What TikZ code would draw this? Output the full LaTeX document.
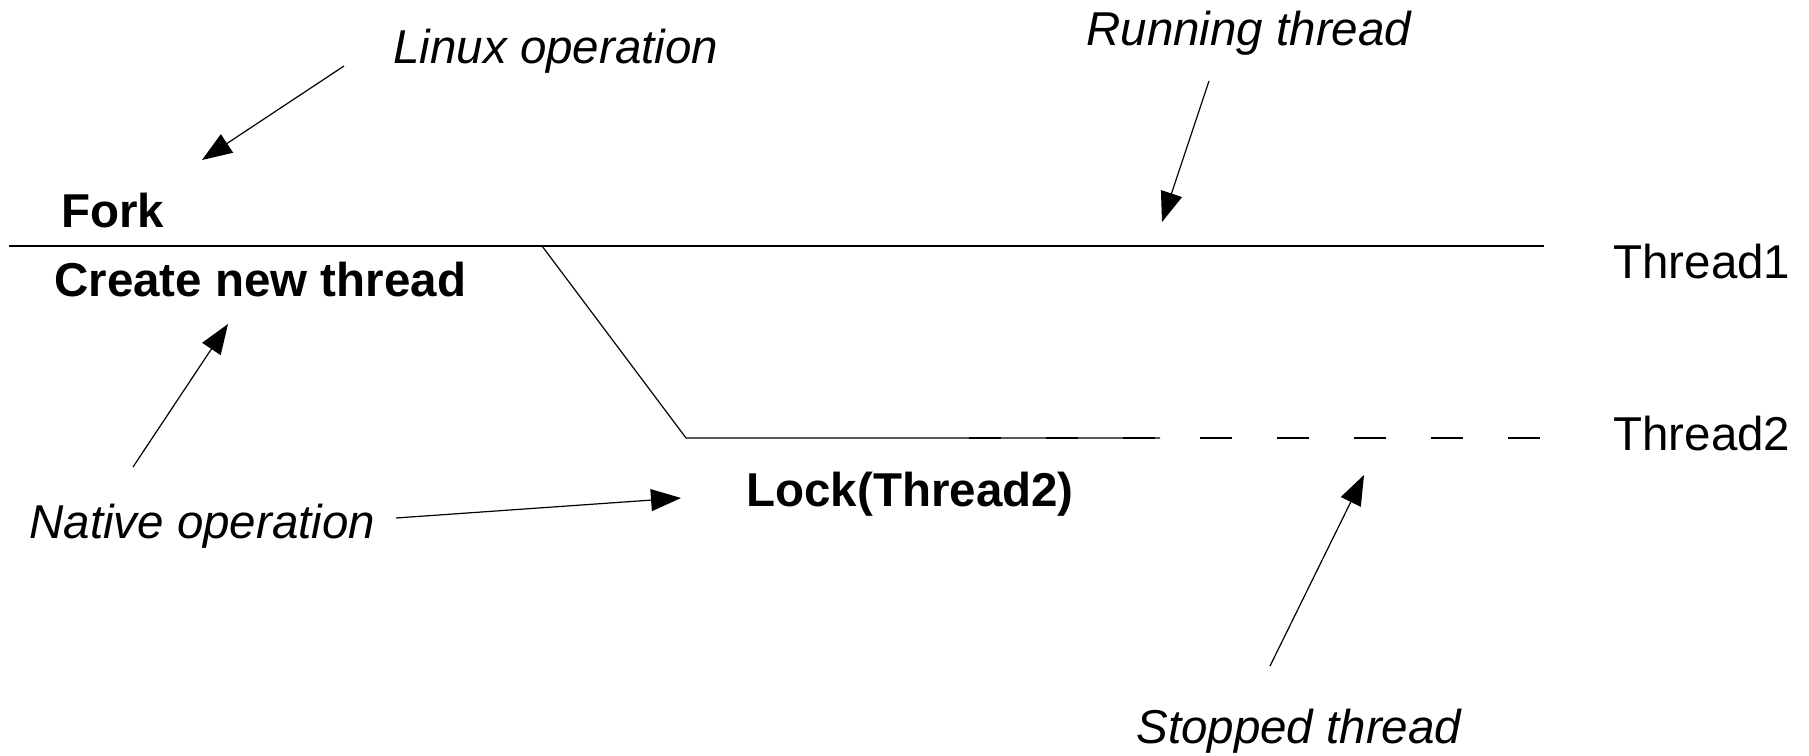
\documentclass[tikz,border=0pt]{standalone}
\usepackage{fontspec}
\setmainfont{Liberation Sans}
\usetikzlibrary{arrows.meta}
\begin{document}
\begin{tikzpicture}[x=0.5pt,y=-0.5pt,
  lbl/.style={inner sep=0pt,anchor=base west,font=\fontsize{23.75}{28}\selectfont},
  note/.style={lbl,font=\fontsize{23.75}{28}\selectfont\itshape},
  op/.style={lbl,font=\fontsize{23.75}{28}\selectfont\bfseries},
  thread/.style={line width=0.6pt},
  pointer/.style={line width=0.6pt,-{Triangle[length=15pt,width=11pt]}}]
\useasboundingbox (0,0) rectangle (1809,755);

% thread timelines
\coordinate (t1s) at (9,246);
\coordinate (t1e) at (1544,246);
\coordinate (fork) at (542,246);
\coordinate (t2s) at (686,438);
\coordinate (t2run) at (1160,438);
\coordinate (t2wait) at (969,438);
\coordinate (t2e) at (1544,438);
\draw[thread] (t1s) -- (t1e);
\draw[thread] (fork) -- (t2s) -- (t2run);
\draw[thread,dash pattern=on 16pt off 22.5pt] (t2wait) -- (t2e);

% labels
\node[note] (linux) at (393,63) {Linux operation};
\node[note] (running) at (1086,45) {Running thread};
\node[op] (forklbl) at (61,227) {Fork};
\node[op] (create) at (54,296) {Create new thread};
\node[lbl] (th1) at (1613,278) {Thread1};
\node[lbl] (th2) at (1613,450) {Thread2};
\node[note] (native) at (29,538) {Native operation};
\node[op] (lock) at (746,506) {Lock(Thread2)};
\node[note] (stopped) at (1136,743) {Stopped thread};

% annotation pointers
\coordinate (linuxA) at (344,66);   \coordinate (linuxB) at (202,160);
\coordinate (runA) at (1209,81);    \coordinate (runB) at (1162,222);
\coordinate (natA) at (133,467);    \coordinate (natB) at (228,324);
\coordinate (natC) at (396,518);    \coordinate (natD) at (681,498);
\coordinate (stopA) at (1270,666);  \coordinate (stopB) at (1364,475);
\draw[pointer] (linuxA) -- (linuxB);
\draw[pointer] (runA) -- (runB);
\draw[pointer] (natA) -- (natB);
\draw[pointer] (natC) -- (natD);
\draw[pointer] (stopA) -- (stopB);
\end{tikzpicture}
\end{document}
